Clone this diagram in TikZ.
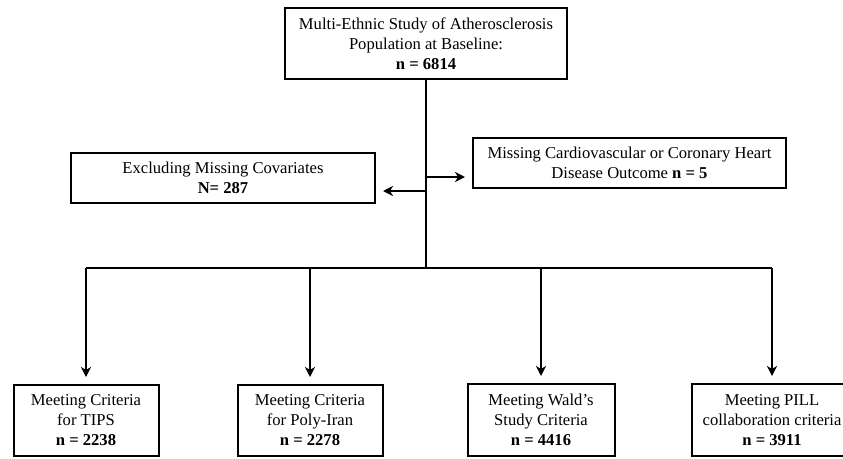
\documentclass[tikz,border=0pt]{standalone}
\usepackage{fontspec}
\setmainfont{Liberation Serif}
\usetikzlibrary{arrows.meta}
\begin{document}
\begin{tikzpicture}[x=1pt,y=-1pt,
  box/.style={draw, line width=2pt, rectangle, align=center, inner sep=0pt,
    font=\fontsize{16.6}{20}\selectfont},
  arr/.style={line width=2pt, -{Stealth[length=10pt,width=10pt,inset=3pt]}},
  ln/.style={line width=2pt}]
\useasboundingbox (0,0) rectangle (843,458);
\node[box, minimum width=282, minimum height=71] (top) at (426,43.5)
  {Multi-Ethnic Study of Atherosclerosis\\Population at Baseline:\\\textbf{n = 6814}};
\node[box, minimum width=304, minimum height=50] (excl) at (223,178)
  {Excluding Missing Covariates\\\textbf{N= 287}};
\node[box, minimum width=313, minimum height=50] (miss) at (629.5,163)
  {Missing Cardiovascular or Coronary Heart\\Disease Outcome \textbf{n = 5}};
\node[box, minimum width=145, minimum height=71] (b1) at (86,420.5)
  {Meeting Criteria\\for TIPS\\\textbf{n = 2238}};
\node[box, minimum width=145, minimum height=71] (b2) at (310,420.5)
  {Meeting Criteria\\for Poly-Iran\\\textbf{n = 2278}};
\node[box, minimum width=147, minimum height=72] (b3) at (541,420)
  {Meeting Wald's\\Study Criteria\\\textbf{n = 4416}};
\node[box, minimum width=160, minimum height=72] (b4) at (772,420)
  {Meeting PILL\\collaboration criteria\\\textbf{n = 3911}};
\coordinate (hub) at (top.south |- 0,268);
\coordinate (ra) at (top.south |- 0,177);
\coordinate (la) at (top.south |- 0,191);
\draw[ln] (top.south) -- (hub);
\draw[ln] (b1.north |- hub) -- (b4.north |- hub);
\draw[arr, shorten >=7pt] (ra) -- (miss.west |- ra);
\draw[arr, shorten >=7pt] (la) -- (excl.east |- la);
\foreach \b in {b1,b2,b3,b4}
  \draw[arr, shorten >=7pt] (\b.north |- hub) -- (\b.north);
\end{tikzpicture}
\end{document}
